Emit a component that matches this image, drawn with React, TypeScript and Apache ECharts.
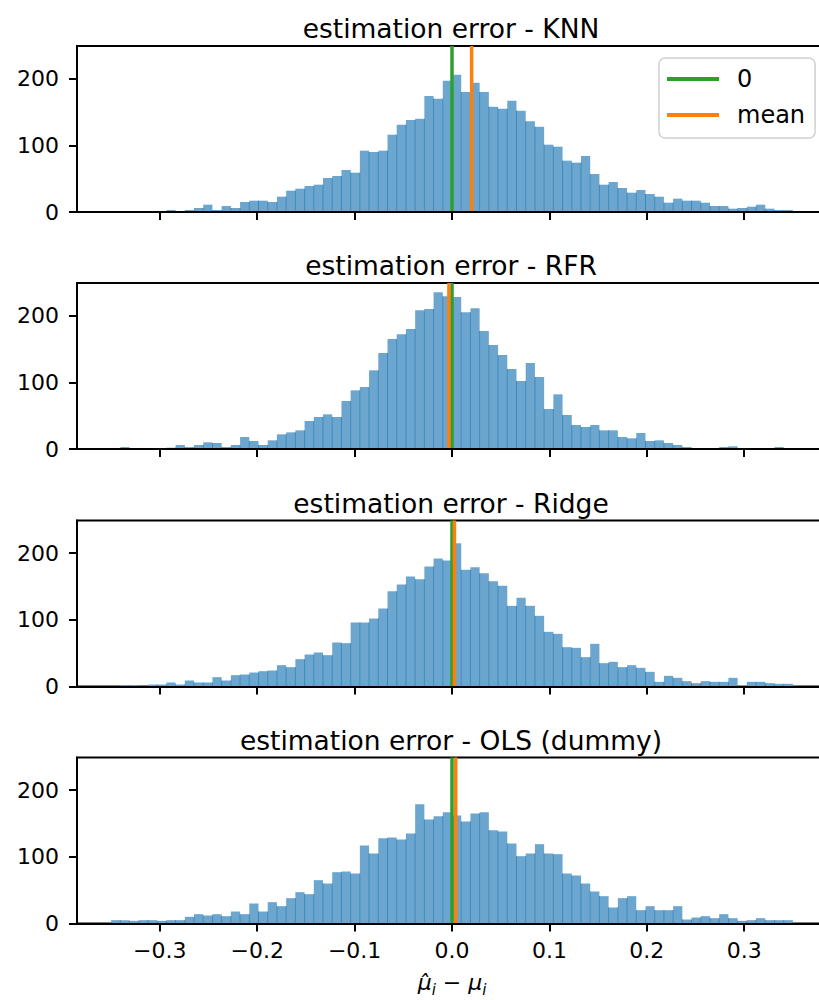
import React, { useEffect, useRef } from "react";
import * as echarts from "echarts";

const FONT = "'DejaVu Sans', sans-serif";
const BIN_COUNT = 74;
const BIN_MIN = -0.35;
const BIN_MAX = 0.35;
const X_MIN = -0.385;
const X_MAX = 0.385;
const Y_MAX = 249;

const titles = [
  "estimation error - KNN",
  "estimation error - RFR",
  "estimation error - Ridge",
  "estimation error - OLS (dummy)",
];

const knnCounts = [
  0, 0, 0, 0, 0, 0, 3, 0, 3, 6, 11, 3, 9, 6, 15, 17, 17, 15, 23, 32, 35, 39, 41, 51, 54, 63, 59, 92, 90, 92, 116,
  131, 138, 140, 174, 170, 197, 206, 180, 194, 180, 158, 155, 167, 152, 136, 128, 101, 98, 77, 74, 84, 57, 41, 45,
  36, 29, 33, 27, 23, 14, 20, 17, 17, 14, 9, 9, 5, 6, 8, 11, 5, 3, 3,
];
const rfrCounts = [
  0, 3, 0, 1, 0, 1, 2, 6, 3, 6, 10, 9, 3, 6, 18, 12, 6, 13, 22, 25, 28, 42, 48, 52, 48, 72, 88, 93, 118, 144, 165,
  172, 180, 208, 210, 235, 229, 228, 205, 211, 177, 156, 141, 120, 102, 129, 108, 60, 82, 51, 36, 33, 36, 28, 28,
  18, 16, 24, 12, 13, 9, 6, 3, 1, 0, 0, 3, 4, 1, 0, 0, 0, 3, 0,
];
const ridgeCounts = [
  0, 2, 2, 0, 3, 3, 6, 3, 9, 6, 6, 14, 9, 17, 18, 21, 23, 24, 32, 29, 41, 48, 51, 47, 66, 65, 96, 96, 102, 117, 143,
  153, 165, 161, 180, 192, 189, 215, 175, 179, 170, 158, 151, 121, 133, 121, 106, 82, 79, 59, 58, 44, 64, 35, 37,
  29, 32, 28, 22, 7, 16, 13, 8, 5, 8, 7, 7, 13, 2, 7, 7, 5, 4, 4,
];
const olsCounts = [
  5, 5, 4, 5, 5, 4, 5, 5, 10, 14, 12, 14, 11, 18, 14, 30, 18, 32, 26, 38, 47, 44, 65, 60, 77, 78, 75, 117, 105, 128,
  129, 126, 135, 179, 156, 161, 167, 162, 153, 165, 167, 140, 138, 120, 101, 105, 119, 105, 104, 75, 72, 60, 48, 41,
  24, 38, 41, 20, 26, 20, 20, 26, 6, 9, 11, 8, 14, 8, 4, 5, 8, 5, 5, 5,
];
const allCounts = [knnCounts, rfrCounts, ridgeCounts, olsCounts];
const meanValues = [0.0202, -0.0032, 0.0025, 0.0038];
const zeroValue = 0;

const xTicks = [-0.3, -0.2, -0.1, 0, 0.1, 0.2, 0.3];
const yTicks = [0, 100, 200];

const CHART_WIDTH = 840;
const GRID_LEFT = 77;
const GRID_WIDTH = 750;
const GRID_HEIGHT = 166;
const gridTops = [46, 283, 520.5, 757.5];

const BAR_FILL = "#6ca6ce";
const SEAM = "#3a88bd";
const GREEN = "#2ca02c";
const ORANGE = "#ff7f0e";

function fmtX(v: number): string {
  const s = Math.abs(v).toFixed(1);
  return v < -1e-9 ? "\u2212" + s : s;
}

function binData(counts: number[]) {
  const w = (BIN_MAX - BIN_MIN) / BIN_COUNT;
  return counts.map((c, i) => [BIN_MIN + i * w, BIN_MIN + (i + 1) * w, c]);
}

function makeRender(counts: number[]) {
  return (params: any, api: any) => {
    const x0 = api.value(0);
    const x1 = api.value(1);
    const c = api.value(2);
    const idx = params.dataIndex;
    const prev = idx > 0 ? counts[idx - 1] : 0;
    const pA = api.coord([x0, 0]);
    const pB = api.coord([x1, c]);
    const children: any[] = [];
    if (c > 0) {
      children.push({
        type: "rect",
        shape: { x: pA[0], y: pB[1], width: pB[0] - pA[0], height: pA[1] - pB[1] },
        style: { fill: BAR_FILL },
      });
    }
    const seam = Math.min(c, prev);
    if (seam > 0) {
      const pS = api.coord([x0, seam]);
      children.push({
        type: "line",
        shape: { x1: pA[0], y1: pA[1], x2: pA[0], y2: pS[1] },
        style: { stroke: SEAM, lineWidth: 1 },
      });
    }
    return { type: "group", children };
  };
}

function buildOption() {
  const grid = gridTops.map((top) => ({
    left: GRID_LEFT,
    top,
    width: GRID_WIDTH,
    height: GRID_HEIGHT,
    show: true,
    borderColor: "#000",
    borderWidth: 2,
    backgroundColor: "transparent",
    containLabel: false,
  }));

  const title = titles.map((t, i) => ({
    text: t,
    left: GRID_LEFT + GRID_WIDTH / 2 - 1,
    top: gridTops[i] - 31,
    textAlign: "center",
    padding: 0,
    textStyle: { fontSize: 26.5, fontWeight: "normal", fontFamily: FONT, color: "#000" },
  }));

  const xAxis = gridTops.map((_, i) => ({
    type: "value",
    gridIndex: i,
    min: X_MIN,
    max: X_MAX,
    z: 10,
    axisLine: { show: true, onZero: false, lineStyle: { color: "#000", width: 2 } },
    axisTick: { show: true, customValues: xTicks, length: 8, lineStyle: { color: "#000", width: 2 } },
    axisLabel: {
      show: i === 3,
      customValues: xTicks,
      formatter: (v: number) => fmtX(v),
      fontSize: 22,
      fontFamily: FONT,
      color: "#000",
      margin: 16,
    },
    splitLine: { show: false },
  }));

  const yAxis = gridTops.map((_, i) => ({
    type: "value",
    gridIndex: i,
    min: 0,
    max: Y_MAX,
    z: 10,
    axisLine: { show: true, onZero: false, lineStyle: { color: "#000", width: 2 } },
    axisTick: { show: true, customValues: yTicks, length: 8, lineStyle: { color: "#000", width: 2 } },
    axisLabel: {
      customValues: yTicks,
      fontSize: 22,
      fontFamily: FONT,
      color: "#000",
      margin: 18,
    },
    splitLine: { show: false },
  }));

  const series: any[] = [];
  allCounts.forEach((counts, i) => {
    series.push({
      type: "custom",
      name: "hist" + i,
      xAxisIndex: i,
      yAxisIndex: i,
      data: binData(counts),
      encode: { x: [0, 1], y: 2 },
      renderItem: makeRender(counts),
      silent: true,
      z: 2,
    });
  });
  allCounts.forEach((_, i) => {
    series.push({
      type: "line",
      name: "0",
      xAxisIndex: i,
      yAxisIndex: i,
      data: [
        [zeroValue, 0],
        [zeroValue, Y_MAX],
      ],
      symbol: "none",
      lineStyle: { color: GREEN, width: 3.5 },
      itemStyle: { color: GREEN },
      silent: true,
      z: 3,
    });
  });
  allCounts.forEach((_, i) => {
    series.push({
      type: "line",
      name: "mean",
      xAxisIndex: i,
      yAxisIndex: i,
      data: [
        [meanValues[i], 0],
        [meanValues[i], Y_MAX],
      ],
      symbol: "none",
      lineStyle: { color: ORANGE, width: 3.5 },
      itemStyle: { color: ORANGE },
      silent: true,
      z: 4,
    });
  });

  return {
    animation: false,
    backgroundColor: "#fff",
    title,
    grid,
    xAxis,
    yAxis,
    legend: {
      show: true,
      data: ["0", "mean"],
      orient: "vertical",
      left: 659,
      top: 58,
      icon: "rect",
      itemWidth: 52,
      itemHeight: 4,
      itemGap: 12,
      padding: [9, 10, 11, 8],
      borderColor: "#d0d0d0",
      borderWidth: 1.5,
      borderRadius: 6,
      backgroundColor: "rgba(255,255,255,0.8)",
      selectedMode: false,
      textStyle: { fontSize: 24, fontFamily: FONT, color: "#000", lineHeight: 24, padding: [0, 0, 0, 13] },
    },
    graphic: [
      {
        type: "text",
        x: GRID_LEFT + GRID_WIDTH / 2,
        y: 982,
        style: {
          text: "{m|\u03bc\u0302}{s|i}{o| \u2212 }{m|\u03bc}{s|i}",
          textAlign: "center",
          textVerticalAlign: "middle",
          fill: "#000",
          rich: {
            m: { fontSize: 22, fontStyle: "italic", fontFamily: FONT, lineHeight: 30, verticalAlign: "middle" },
            s: { fontSize: 15, fontStyle: "italic", fontFamily: FONT, lineHeight: 30, verticalAlign: "bottom" },
            o: { fontSize: 22, fontFamily: FONT, lineHeight: 30, verticalAlign: "middle" },
          },
        },
      },
    ],
    series,
  };
}

export default function App() {
  const ref = useRef<HTMLDivElement>(null);
  useEffect(() => {
    document.body.style.margin = "0";
    const chart = echarts.init(ref.current!, null, { renderer: "svg" });
    chart.setOption(buildOption() as any);
    return () => chart.dispose();
  }, []);
  return (
    <div
      style={{ position: "absolute", left: 0, top: 0, width: 819, height: 1000, overflow: "hidden", background: "#fff" }}
    >
      <div ref={ref} style={{ width: CHART_WIDTH, height: 1000 }} />
    </div>
  );
}
